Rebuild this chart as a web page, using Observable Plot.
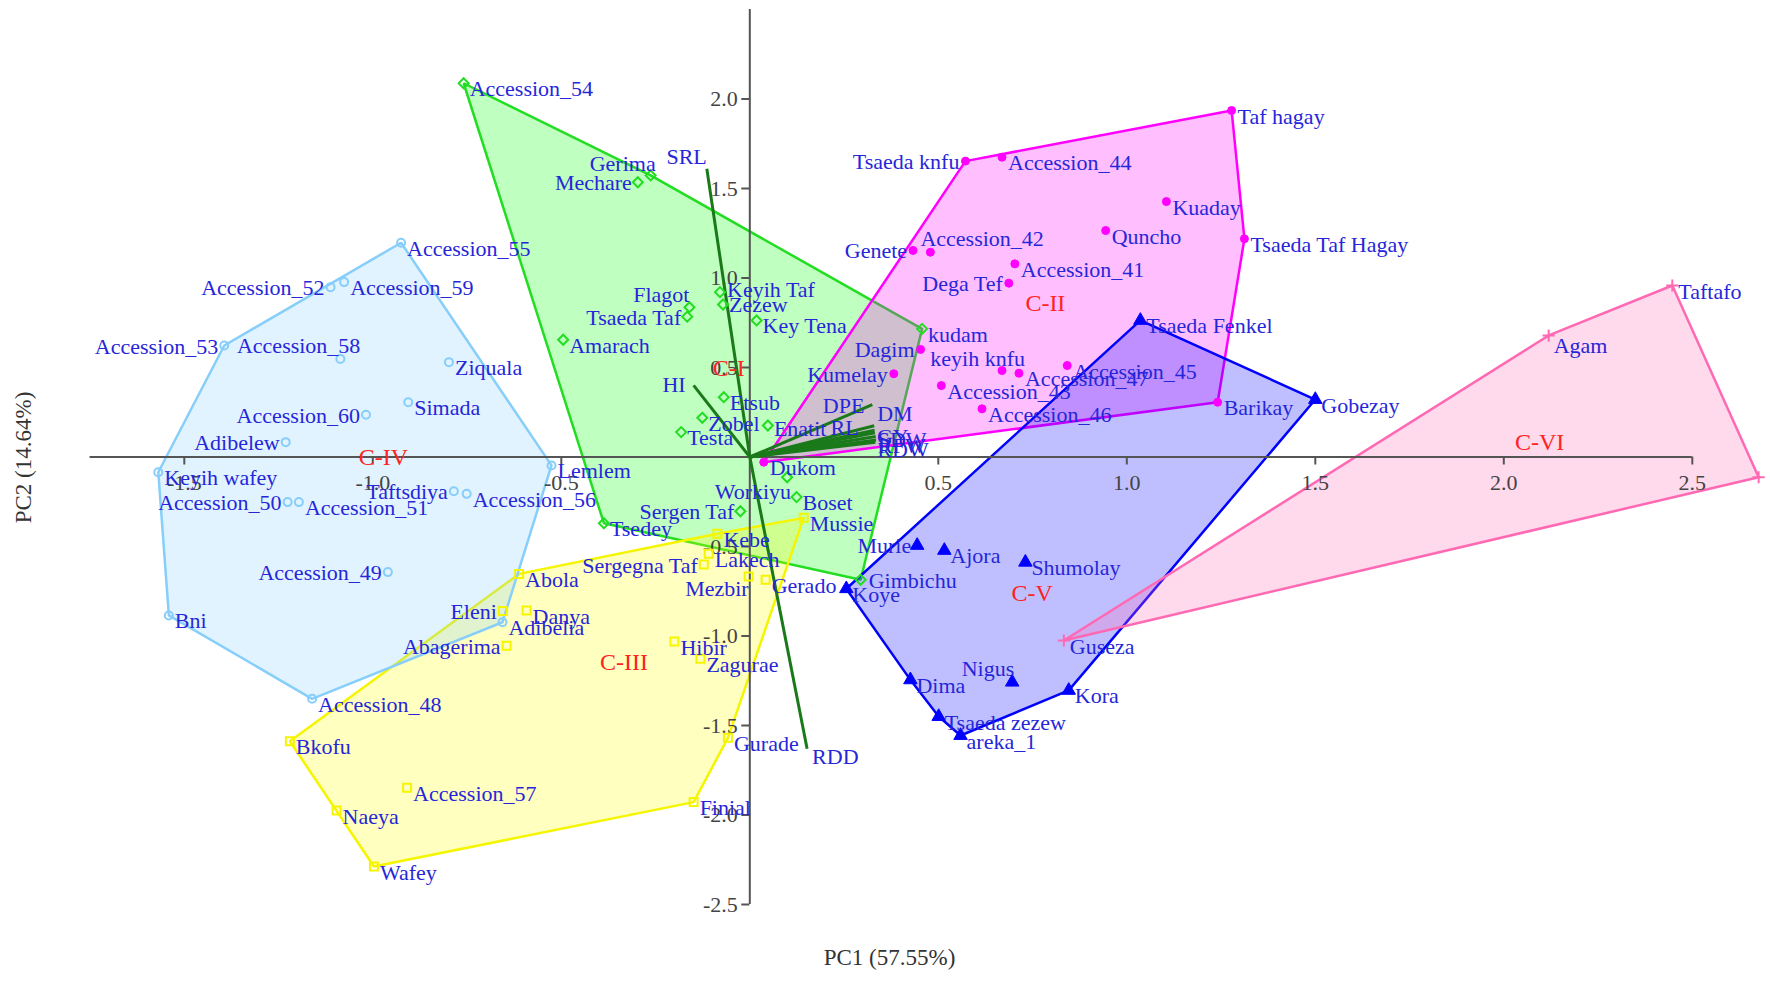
<!DOCTYPE html>
<html><head><meta charset="utf-8">
<script src="https://cdn.jsdelivr.net/npm/d3@7"></script>
<script src="https://cdn.jsdelivr.net/npm/@observablehq/plot@0.6"></script>
<style>html,body{margin:0;padding:0;background:#fff;}</style>
</head><body><div id="chart"></div>
<script>
// ---------- DATA ----------
const c1Names = ["Accession_54","Gerima","Mechare","Flagot","Tsaeda Taf","Keyih Taf","Zezew","Key Tena","Amarach","kudam","Etsub","Zobel","Testa","Enatit","Tsedey","Sergen Taf","Workiyu","Boset","Gimbichu"];
const c1PC1 = [-0.759,-0.263,-0.297,-0.160,-0.166,-0.079,-0.071,0.018,-0.495,0.457,-0.069,-0.126,-0.182,0.048,-0.387,-0.025,0.099,0.124,0.294];
const c1PC2 = [2.088,1.573,1.535,0.837,0.784,0.921,0.852,0.763,0.655,0.716,0.334,0.219,0.139,0.176,-0.370,-0.303,-0.113,-0.224,-0.686];

const c2Names = ["Tsaeda knfu","Accession_44","Taf hagay","Kuaday","Quncho","Tsaeda Taf Hagay","Genete","Accession_42","Accession_41","Dega Tef","Dagim","keyih knfu","Kumelay","Accession_45","Accession_47","Accession_43","Accession_46","Barikay","Dukom"];
const c2PC1 = [0.572,0.669,1.278,1.105,0.944,1.312,0.433,0.479,0.703,0.687,0.453,0.669,0.382,0.842,0.714,0.508,0.616,1.241,0.037];
const c2PC2 = [1.653,1.675,1.936,1.427,1.265,1.219,1.154,1.144,1.079,0.971,0.601,0.483,0.465,0.511,0.468,0.399,0.269,0.306,-0.029];

const c3Names = ["Abola","Eleni","Danya","Abagerima","Bkofu","Accession_57","Naeya","Wafey","Hibir","Zagurae","Finial","Gurade","Mussie","Kebe","Lakech","Sergegna Taf","Mezbir","Gerado"];
const c3PC1 = [-0.612,-0.655,-0.592,-0.645,-1.220,-0.909,-1.096,-0.997,-0.200,-0.131,-0.149,-0.058,0.143,-0.086,-0.109,-0.122,-0.003,0.042];
const c3PC2 = [-0.653,-0.860,-0.858,-1.055,-1.588,-1.848,-1.975,-2.288,-1.031,-1.127,-1.928,-1.569,-0.340,-0.429,-0.541,-0.601,-0.668,-0.686];

const c4Names = ["Accession_55","Accession_52","Accession_59","Accession_53","Accession_58","Ziquala","Simada","Accession_60","Adibelew","Keyih wafey","Accession_50","Accession_51","Taftsdiya","Accession_56","Lemlem","Accession_49","Bni","Adibelia","Accession_48"];
const c4PC1 = [-0.925,-1.112,-1.076,-1.394,-1.086,-0.798,-0.906,-1.018,-1.231,-1.569,-1.226,-1.196,-0.785,-0.751,-0.526,-0.960,-1.541,-0.656,-1.161];
const c4PC2 = [1.197,0.949,0.977,0.623,0.548,0.530,0.306,0.236,0.083,-0.085,-0.252,-0.252,-0.191,-0.206,-0.047,-0.643,-0.885,-0.923,-1.351];

const c5Names = ["Tsaeda Fenkel","Gobezay","Murie","Ajora","Shumolay","Koye","Dima","Nigus","Kora","Tsaeda zezew","areka_1"];
const c5PC1 = [1.036,1.500,0.444,0.516,0.731,0.256,0.426,0.696,0.846,0.501,0.559];
const c5PC2 = [0.763,0.321,-0.494,-0.522,-0.588,-0.736,-1.245,-1.258,-1.304,-1.450,-1.556];

const c6Names = ["Taftafo","Agam","","Guseza"];
const c6PC1 = [2.447,2.119,2.676,0.833];
const c6PC2 = [0.958,0.679,-0.113,-1.025];

const clusterNames = ["C-I","C-II","C-III","C-IV","C-V","C-VI"];
const clusterLabelPC1 = [-0.056,0.784,-0.334,-0.972,0.749,2.095];
const clusterLabelPC2 = [0.493,0.856,-1.146,0.0,-0.764,0.083];

const vecNames = ["SRL","HI","DPE","DM","RL","GY","SDW","RFW","RDW","RDD"];
const vecPC1 = [-0.114,-0.149,0.325,0.330,0.331,0.332,0.334,0.335,0.333,0.152];
const vecPC2 = [1.610,0.400,0.293,0.175,0.150,0.135,0.115,0.095,0.083,-1.630];

const xTicks = [-1.5,-1.0,-0.5,0.5,1.0,1.5,2.0,2.5];
const yTicks = [-2.5,-2.0,-1.5,-1.0,-0.5,0.5,1.0,1.5,2.0];
const xTitle = "PC1 (57.55%)";
const yTitle = "PC2 (14.64%)";

// ---------- LAYOUT / STYLE ----------
const W = 1770, H = 983;
const xDomain = [-1.98753, 2.70743];
const yDomain = [-2.94134, 2.55028];
const pxX = W / (xDomain[1] - xDomain[0]);
const pxY = H / (yDomain[1] - yDomain[0]);
const px2x = p => xDomain[0] + p / pxX;
const py2y = p => yDomain[1] - p / pxY;

const FONT = "Liberation Serif, Times New Roman, serif";
const LABEL = "#2626d9";
const styles = [
  {color:"#22dd22", symbol:"diamond2", filled:false, r:4.5},
  {color:"#ff00ff", symbol:"circle", filled:true, r:4},
  {color:"#f5f500", symbol:"square", filled:false, r:4.5},
  {color:"#87cefa", symbol:"circle", filled:false, r:4},
  {color:"#0000ff", symbol:"triangle", filled:true, r:5},
  {color:"#ff69b4", symbol:"plus", filled:false, r:4}
];
const hullFill = ["#00ff00","#ff00ff","#ffff00","#87cefa","#0000ff","#ff69b4"];

const groups = [
  [c1Names,c1PC1,c1PC2],[c2Names,c2PC1,c2PC2],[c3Names,c3PC1,c3PC2],
  [c4Names,c4PC1,c4PC2],[c5Names,c5PC1,c5PC2],[c6Names,c6PC1,c6PC2]
];

const L = ["end",-6,1];
const place = {
  "Tsaeda knfu":L,"Genete":L,"Dega Tef":L,"Dagim":L,"Kumelay":L,"Mechare":L,"Tsaeda Taf":L,
  "Sergen Taf":L,"Accession_52":L,"Accession_53":L,"Accession_60":L,"Adibelew":L,"Accession_50":L,
  "Taftsdiya":L,"Accession_49":L,"Eleni":L,"Abagerima":L,"Sergegna Taf":L,"Murie":L,
  "Gerima":["end",5,-11],"Flagot":["end",0,-12],"Keyih Taf":["start",7,-2],"Zezew":["start",6,0],
  "Workiyu":["end",4,15],"Accession_42":["start",-10,-13],"keyih knfu":["end",23,-12],
  "Mezbir":["end",0,12],"Nigus":["end",2,-13],"Accession_58":["end",20,-13],
  "Gimbichu":["start",8,1],"Enatit":["start",6,3],"Agam":["start",5,10]
};
const DEF = ["start",6,6];
const vplace = {
  "SRL":["end",0,-12],"HI":["end",-8,0],"DPE":["end",-8,1],"DM":["start",3,-12],"RL":["end",-16,-2],
  "GY":["start",2,4],"SDW":["start",2,4],"RFW":["start",2,6],"RDW":["start",2,8],"RDD":["start",5,8]
};

function textGroups(rows, pmap, def, extra) {
  const g = d3.group(rows, r => (pmap[r.name] || def).join("|"));
  return Array.from(g, ([k, rs]) => {
    const [a, dx, dy] = k.split("|");
    return Plot.text(rs, {x:"x", y:"y", text:"name", textAnchor:a, dx:+dx, dy:+dy,
      lineAnchor:"middle", fontFamily:FONT, fontSize:22, fill:LABEL, ...extra});
  });
}

const marks = [];
// hulls
groups.forEach(([n,a,b], gi) => {
  const pts = n.map((_, i) => [a[i], b[i]]);
  const hull = d3.polygonHull(pts);
  hull.push(hull[0]);
  marks.push(Plot.line(hull, {x: d => d[0], y: d => d[1], stroke: styles[gi].color, strokeWidth: 2.5,
    fill: hullFill[gi], fillOpacity: 0.25, curve: "linear", strokeLinejoin: "miter"}));
});
// axes
marks.push(Plot.ruleY([0], {x1: () => -1.75, x2: () => 2.5, stroke: "#555", strokeWidth: 2}));
marks.push(Plot.ruleX([0], {y1: () => -2.5, y2: () => 2.5, stroke: "#555", strokeWidth: 2}));
marks.push(Plot.ruleX(xTicks, {x: d => d, y1: () => 0, y2: () => -8 / pxY, stroke: "#555", strokeWidth: 2}));
marks.push(Plot.ruleY(yTicks, {y: d => d, x1: () => -8 / pxX, x2: () => 0, stroke: "#555", strokeWidth: 2}));
marks.push(Plot.text(xTicks, {x: d => d, y: () => 0, dy: 26, text: d => d.toFixed(1), fontFamily: FONT, fontSize: 22, fill: "#444"}));
marks.push(Plot.text(yTicks, {x: () => 0, y: d => d, dx: -12, text: d => d.toFixed(1), textAnchor: "end", fontFamily: FONT, fontSize: 22, fill: "#444"}));
// vectors
const vecRows = vecNames.map((n, i) => ({name: n, x: vecPC1[i], y: vecPC2[i]}));
marks.push(Plot.link(vecRows, {x1: () => 0, y1: () => 0, x2: "x", y2: "y", stroke: "#1a7a1a", strokeWidth: 3}));
// points
const allRows = [];
groups.forEach(([n,a,b], gi) => {
  const rows = n.map((nm, i) => ({name: nm, x: a[i], y: b[i]}));
  allRows.push(...rows);
  const s = styles[gi];
  marks.push(Plot.dot(rows, {x: "x", y: "y", symbol: () => s.symbol, r: s.r,
    fill: s.filled ? s.color : "none", stroke: s.color, strokeWidth: s.filled ? 1 : 2}));
});
// labels
marks.push(...textGroups(allRows.filter(r => r.name), place, DEF, {}));
marks.push(...textGroups(vecRows, vplace, DEF, {}));
// cluster labels
marks.push(Plot.text(clusterNames, {x: (d, i) => clusterLabelPC1[i], y: (d, i) => clusterLabelPC2[i], text: d => d,
  fontFamily: FONT, fontSize: 24, fill: "#ff2222"}));
// axis titles
marks.push(Plot.text([xTitle], {x: () => px2x(889), y: () => py2y(957), text: d => d, fontFamily: FONT, fontSize: 23, fill: "#333"}));
marks.push(Plot.text([yTitle], {x: () => px2x(23), y: () => py2y(457), text: d => d, rotate: -90, fontFamily: FONT, fontSize: 23, fill: "#333"}));

const chart = Plot.plot({
  width: W, height: H, margin: 0,
  x: {domain: xDomain, axis: null},
  y: {domain: yDomain, axis: null},
  style: {background: "#fff"},
  marks
});
document.getElementById("chart").appendChild(chart);
</script>
</body></html>
